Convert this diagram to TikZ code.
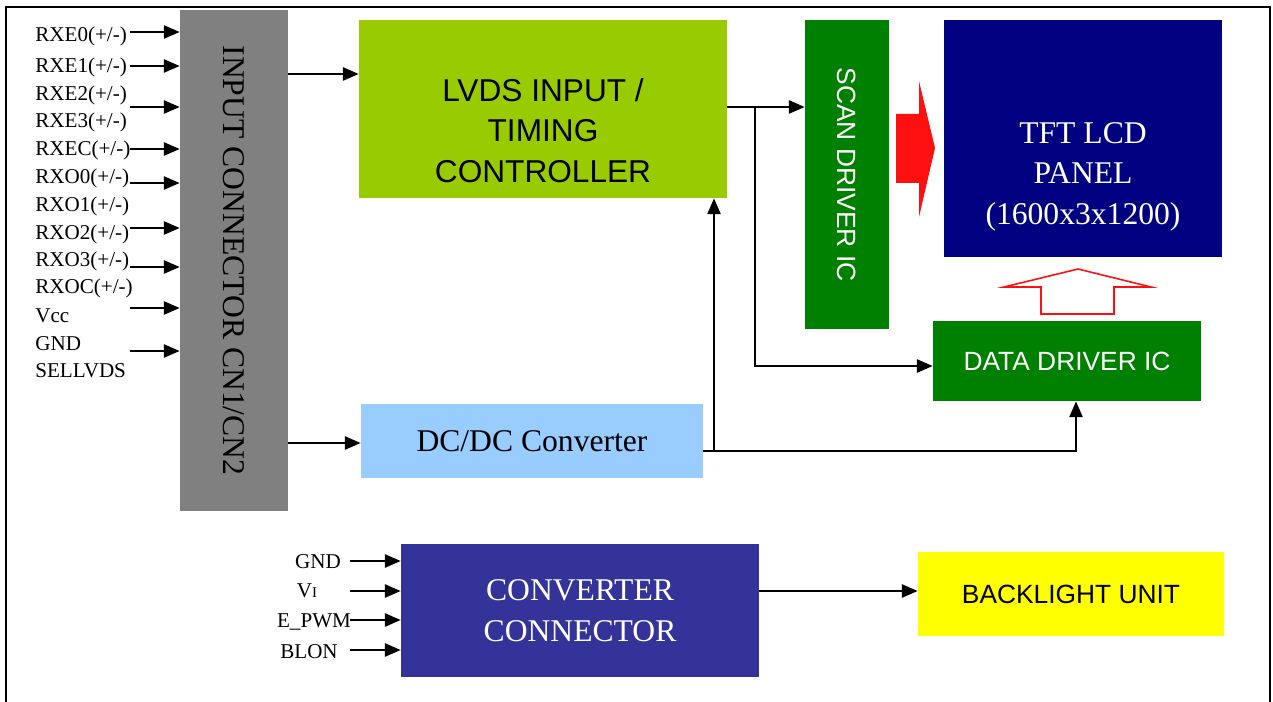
\documentclass[tikz,border=0pt]{standalone}
\usepackage{fontspec}
\usepackage{graphicx}
\setmainfont{Liberation Serif}
\setsansfont{Liberation Sans}
\usetikzlibrary{arrows.meta}
\definecolor{cgray} {RGB}{128,128,128}
\definecolor{lime}  {RGB}{153,204,  0}
\definecolor{dgrn}  {RGB}{  0,128,  0}
\definecolor{navy}  {RGB}{  0,  0,128}
\definecolor{sky}   {RGB}{153,204,255}
\definecolor{indig} {RGB}{ 51, 51,153}
\definecolor{yel}   {RGB}{255,255,  0}
\definecolor{arred} {RGB}{255, 16, 16}
\tikzset{
  % Plain filled block, sizes given per node
  BX/.style={rectangle,inner sep=0pt,align=center,draw=none},
  % Big sans text (Arial look)
  SBig/.style={font=\sffamily\fontsize{18}{23}\selectfont},
  % Small sans text
  SSml/.style={font=\sffamily\fontsize{15}{18}\selectfont},
  % Big serif text (Times look)
  RBig/.style={font=\fontsize{18}{23}\selectfont},
  % Pin labels
  Lab/.style={font=\fontsize{12}{14}\selectfont,inner sep=0pt},
  % Arrows -- straight, black, filled tips
  Arr/.style={-{Triangle[length=9pt,width=7.5pt]},line width=1.1pt},
  Wire/.style={line width=1.1pt},
}
\begin{document}
\begin{tikzpicture}[x=0.02cm,y=-0.02cm]
      \useasboundingbox (0,0) rectangle (1273,702);
      \draw[Wire] (6,720) -- (6,7) -- (1270,7) -- (1270,720);
      % blocks
      \node[BX,fill=cgray,minimum width=2.16cm,minimum height=10.02cm,RBig]
            at (234,260.5) (incon)
            {\rotatebox{-90}{INPUT CONNECTOR CN1/CN2}};
      \node[BX,fill=lime,minimum width=7.36cm,minimum height=3.56cm,
            label={[SBig,align=center,yshift=-0.43cm]center:LVDS INPUT /\\TIMING\\CONTROLLER}]
            at (543,109) (lvds) {};
      \node[BX,fill=dgrn,minimum width=1.68cm,minimum height=6.18cm,
            SSml,text=white]
            at (847,174.5) (scan)
            {\rotatebox{-90}{SCAN DRIVER IC}};
      \node[BX,fill=navy,minimum width=5.56cm,minimum height=4.74cm,
            label={[RBig,text=white,align=center,yshift=-0.76cm]center:TFT LCD\\PANEL\\(1600x3x1200)}]
            at (1083,138.5) (tft) {};
      \node[BX,fill=dgrn,minimum width=5.36cm,minimum height=1.6cm,
            SSml,text=white]
            at (1067,361) (data) {DATA DRIVER IC};
      \node[BX,fill=sky,minimum width=6.84cm,minimum height=1.48cm,RBig]
            at (532,441) (dcdc) {DC/DC Converter};
      \node[BX,fill=indig,minimum width=7.16cm,minimum height=2.66cm,
            RBig,text=white]
            at (580,610.5) (conv) {CONVERTER\\CONNECTOR};
      \node[BX,fill=yel,minimum width=6.12cm,minimum height=1.68cm,SSml]
            at (1071,594) (blu) {BACKLIGHT UNIT};
      % big arrows
      \fill[arred] (896,114) -- (919,114) -- (919,81) -- (935,148)
            -- (919,217) -- (919,183) -- (896,183) -- cycle;
      \draw[arred,line width=0.9pt] (1041,314) -- (1041,287) -- (1004,287)
            -- (1078,269) -- (1151,287) -- (1114,287) -- (1114,314) -- cycle;
      % pin labels, LVDS side
      \node[Lab,anchor=base west] at (35,42)  (rxe0) {RXE0(+/-)};
      \node[Lab,anchor=base west] at (35,73)  (rxe1) {RXE1(+/-)};
      \node[Lab,anchor=base west] at (35,101) (rxe2) {RXE2(+/-)};
      \node[Lab,anchor=base west] at (35,128) (rxe3) {RXE3(+/-)};
      \node[Lab,anchor=base west] at (35,156) (rxec) {RXEC(+/-)};
      \node[Lab,anchor=base west] at (35,184) (rxo0) {RXO0(+/-)};
      \node[Lab,anchor=base west] at (35,212) (rxo1) {RXO1(+/-)};
      \node[Lab,anchor=base west] at (35,240) (rxo2) {RXO2(+/-)};
      \node[Lab,anchor=base west] at (35,267) (rxo3) {RXO3(+/-)};
      \node[Lab,anchor=base west] at (35,294) (rxoc) {RXOC(+/-)};
      \node[Lab,anchor=base west] at (35,322) (vcc)  {Vcc};
      \node[Lab,anchor=base west] at (35,350) (gnd)  {GND};
      \node[Lab,anchor=base west] at (35,377) (sel)  {SELLVDS};
      \foreach \y [count=\i] in {32,66,107,149,183,228,267,308,351} {
        \coordinate (li\i) at (130,\y);
        \draw[Arr] (li\i) -- (li\i -| incon.west);
      }
      % pin labels, converter side
      \node[Lab,anchor=base] at (318,568) (bgnd) {GND};
      \node[Lab,anchor=base] at (307,597) (bvi)  {V{\fontsize{8.5}{9}\selectfont I}};
      \node[Lab,anchor=base] at (314,627) (bpwm) {E\_PWM};
      \node[Lab,anchor=base] at (309,658) (blon) {BLON};
      \foreach \y [count=\i] in {561,591,620,650} {
        \coordinate (ci\i) at (350,\y);
        \draw[Arr] (ci\i) -- (ci\i -| conv.west);
      }
      % signal paths
      \draw[Arr] (incon.east |- 0,74) -- (lvds.west |- 0,74);
      \draw[Arr] (incon.east |- 0,443) -- (dcdc.west |- 0,443);
      \draw[Arr] (lvds.east |- 0,107) -- (scan.west |- 0,107);
      \coordinate (sbr) at (755,107);
      \draw[Arr] (sbr) -- (sbr |- 0,366) -- (data.west |- 0,366);
      \coordinate (dnd) at (1076,451);
      \draw[Arr] (dcdc.east |- dnd) -- (dnd) -- (dnd |- data.south);
      \coordinate (dbr) at (714,451);
      \draw[Arr] (dbr) -- (dbr |- lvds.south);
      \draw[Arr] (conv.east |- 0,591) -- (blu.west |- 0,591);
    \end{tikzpicture}
\end{document}
